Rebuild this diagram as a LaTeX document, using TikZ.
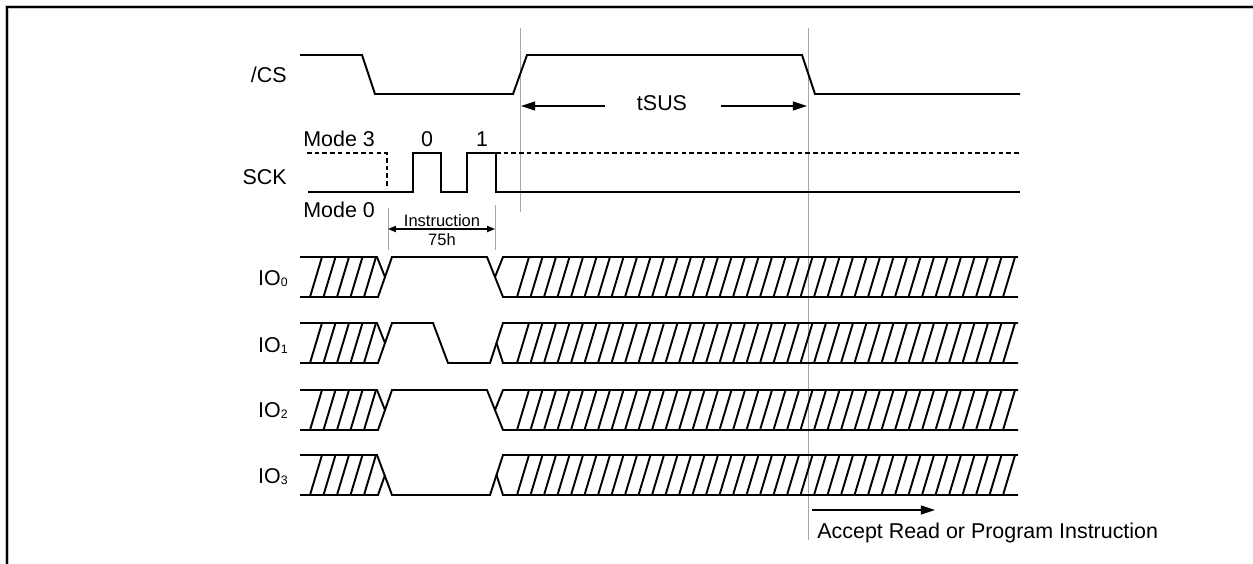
\documentclass[tikz,border=0pt]{standalone}
\usepackage{fontspec}
\setmainfont{Liberation Sans}
\usetikzlibrary{arrows.meta}

\tikzset{
  wave/.style={line width=1.1pt, line join=miter},
  hatchline/.style={line width=1.1pt},
  guide/.style={draw=gray!70, line width=0.5pt},
  lbl/.style={font=\fontsize{12.2}{14}\selectfont, inner sep=0pt},
  smalllbl/.style={font=\fontsize{9.4}{11}\selectfont, inner sep=0pt},
  bigarrow/.style={line width=1.1pt, -{Triangle[length=8pt,width=5pt]}},
  smallarrow/.style={line width=0.8pt, {Triangle[length=4.5pt,width=3.5pt]}-{Triangle[length=4.5pt,width=3.5pt]}},
}

% #1 first bottom x, #2 last index, #3 top y
\newcommand\hatchrun[3]{%
  \foreach \k in {0,...,#2}
    \draw[hatchline] ({#1+13.5*\k},#3+40) -- ++(12,-40);
}
\newcommand\iosub[1]{\raisebox{-0.15ex}{\fontsize{7}{8}\selectfont #1}}

\begin{document}
\begin{tikzpicture}[x=0.02cm,y=-0.02cm]
\useasboundingbox (0,0) rectangle (1253,564);

\draw[gray!45, line width=2.4pt] (7,564) -- (7,7) -- (1253,7);
\draw[line width=1.3pt] (7,564) -- (7,7) -- (1253,7);

\draw[guide] (520,28) -- (520,212);
\draw[guide] (808,28) -- (808,540);
\draw[guide] (388,208) -- (388,250);
\draw[guide] (495,205) -- (495,250);

\node[lbl, anchor=base east] (cs) at (287,83) {/CS};
\draw[wave] (300,55) -- (362,55) -- (375,94) -- (513,94) -- (527,55)
  -- (802,55) -- (815,94) -- (1020,94);

\node[lbl, anchor=base] (tsus) at (662,111) {tSUS};
\coordinate (susl) at (521,106);
\coordinate (susr) at (807,106);
\draw[bigarrow] ([xshift=-0.64cm]tsus.west |- susl) -- (susl);
\draw[bigarrow] ([xshift=0.68cm]tsus.east |- susr) -- (susr);

\node[lbl, anchor=base east] (sck) at (287,185) {SCK};
\node[lbl, anchor=base west] (m3) at (303,147) {Mode 3};
\node[lbl, anchor=base west] (m0) at (303,217) {Mode 0};
\node[lbl, anchor=base] (clk0) at (427,147) {0};
\node[lbl, anchor=base] (clk1) at (482,147) {1};
\draw[wave, dashed, dash pattern=on 2.6pt off 1.8pt] (307,153) -- (387,153) -- (387,186);
\draw[wave, dashed, dash pattern=on 2.6pt off 1.8pt] (496,153) -- (1020,153);
\draw[wave] (308,192) -- (413,192) -- (413,153) -- (441,153) -- (441,192)
  -- (467,192) -- (467,153) -- (496,153) -- (496,192) -- (1020,192);

\node[smalllbl, anchor=base] (instr) at (442,226) {Instruction};
\node[smalllbl, anchor=base] (hex) at (442,245) {75h};
\coordinate (insl) at (388,229);
\coordinate (insr) at (495,229);
\draw[smallarrow] (insl) -- (insr);

\node[lbl, anchor=base east] (io0) at (288,285) {IO\iosub{0}};
\node[lbl, anchor=base east] (io1) at (288,352) {IO\iosub{1}};
\node[lbl, anchor=base east] (io2) at (288,417) {IO\iosub{2}};
\node[lbl, anchor=base east] (io3) at (288,483) {IO\iosub{3}};

\foreach \t in {257,323,390,455} {
  \hatchrun{310}{4}{\t}
  \hatchrun{517}{36}{\t}
}

\foreach \t in {257,390} {
  \draw[wave] (300,\t) -- (377,\t) -- (385,\t+20);
  \draw[wave] (300,\t+40) -- (378,\t+40) -- (392,\t) -- (487,\t) -- (503,\t+40) -- (1018,\t+40);
  \draw[wave] (495,\t+20) -- (503,\t) -- (1018,\t);
}

\draw[wave] (300,323) -- (377,323) -- (385,343);
\draw[wave] (300,363) -- (378,363) -- (392,323) -- (433,323) -- (448,363)
  -- (490,363) -- (503,323) -- (1018,323);
\draw[wave] (496.5,343) -- (503,363) -- (1018,363);

\draw[wave] (300,455) -- (377,455) -- (392,495) -- (490,495) -- (503,455) -- (1018,455);
\draw[wave] (300,495) -- (378,495) -- (385,475);
\draw[wave] (496.5,475) -- (503,495) -- (1018,495);

\coordinate (accs) at (812,510);
\coordinate (acce) at (935,510);
\draw[bigarrow] (accs) -- (acce);
\node[lbl, anchor=base west] (accept) at (817,538) {Accept Read or Program Instruction};
\end{tikzpicture}
\end{document}
